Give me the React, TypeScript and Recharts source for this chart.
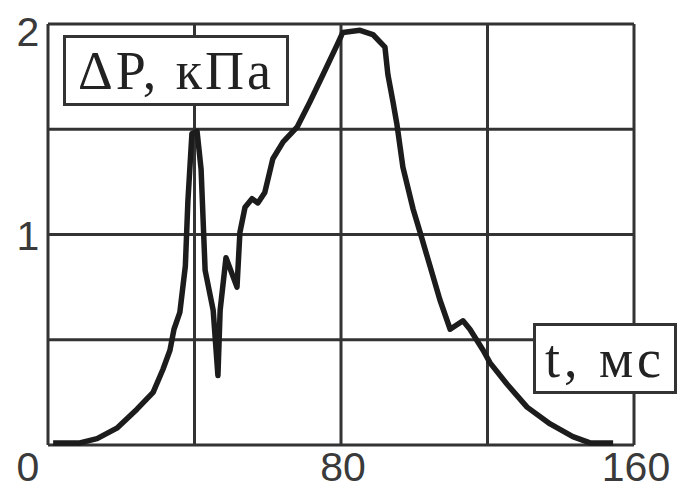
import { CartesianGrid, Line, LineChart, XAxis, YAxis } from "recharts"

// time, ms
const tMs = [
  1.4, 8.7, 13.4, 18.8, 24.3, 28.7, 31.4, 33.3, 34.4, 36.0, 37.5, 38.2, 39.3, 40.7, 41.8, 42.9,
  45.1, 46.4, 47.0, 48.6, 51.6, 52.4, 53.8, 55.7, 57.3, 59.2, 61.4, 64.2, 68.0, 71.5, 75.1, 78.9,
  80.5, 85.2, 88.7, 92.0, 92.8, 94.2, 95.3, 96.9, 99.7, 101.6, 104.3, 107.0, 109.8, 113.3, 115.2,
  118.8, 120.7, 125.3, 130.8, 137.1, 143.3, 148.0, 154.3,
]

// overpressure, kPa
const pressure = [
  0.01, 0.01, 0.03, 0.08, 0.17, 0.25, 0.36, 0.45, 0.55, 0.63, 0.85, 1.16, 1.48, 1.49, 1.31, 0.83,
  0.64, 0.33, 0.64, 0.89, 0.75, 1.01, 1.13, 1.17, 1.15, 1.2, 1.36, 1.44, 1.51, 1.63, 1.76, 1.9,
  1.96, 1.97, 1.95, 1.89, 1.76, 1.63, 1.52, 1.32, 1.12, 1.01, 0.85, 0.69, 0.55, 0.59, 0.55,
  0.45, 0.39, 0.29, 0.18, 0.1, 0.04, 0.01, 0.01,
]

const xTicks = [0, 40, 80, 120, 160]
const xLabels = ["0", "80", "160"]
const yTicks = [0, 0.5, 1, 1.5, 2]
const yLabels = ["1", "2"]

const data = tMs.map((t, i) => ({ t, p: pressure[i] }))

const tickFont = { fontFamily: "'Liberation Sans', Arial, sans-serif", fontSize: 41, fill: "#3a3a3a" }

const XTick = (props: any) => {
  const label = String(props.payload.value)
  if (!xLabels.includes(label)) return null
  // the zero sits under the y labels, not under the axis corner
  const x = props.payload.value === 0 ? props.x - 20 : props.x + 2
  return (
    <text x={x} y={props.y + 36} textAnchor="middle" {...tickFont}>
      {label}
    </text>
  )
}

const YTick = (props: any) => {
  const label = String(props.payload.value)
  if (!yLabels.includes(label)) return null
  const dy = props.payload.value === 2 ? 22 : 15
  return (
    <text x={props.x - 20} y={props.y + dy} textAnchor="middle" {...tickFont}>
      {label}
    </text>
  )
}

const boxStyle = {
  position: "absolute" as const,
  background: "#fff",
  border: "3px solid #333",
  boxSizing: "border-box" as const,
  fontFamily: "'Liberation Serif', 'Times New Roman', serif",
  color: "#222",
  lineHeight: 1,
  whiteSpace: "nowrap" as const,
  display: "flex",
  alignItems: "center",
  justifyContent: "center",
}

export default function App() {
  return (
    <div style={{ position: "absolute", left: 0, top: 0, width: 680, height: 490, background: "#fff" }}>
      <LineChart width={680} height={490} data={data} margin={{ top: 24, right: 46, left: 0, bottom: 0 }}>
        <CartesianGrid stroke="#333" strokeWidth={3} />
        <XAxis
          dataKey="t"
          type="number"
          domain={[0, 160]}
          ticks={xTicks}
          height={45}
          axisLine={false}
          tickLine={false}
          tickSize={0}
          tickMargin={0}
          interval={0}
          tick={<XTick />}
        />
        <YAxis
          type="number"
          domain={[0, 2]}
          ticks={yTicks}
          width={48}
          axisLine={false}
          tickLine={false}
          tickSize={0}
          tickMargin={0}
          interval={0}
          tick={<YTick />}
        />
        <Line
          type="linear"
          dataKey="p"
          stroke="#1c1c1c"
          strokeWidth={5.5}
          strokeLinejoin="round"
          dot={false}
          isAnimationActive={false}
        />
      </LineChart>
      <div style={{ ...boxStyle, left: 63, top: 35, width: 226, height: 71, fontSize: 54, letterSpacing: 3 }}>
        ΔP, кПа
      </div>
      <div style={{ ...boxStyle, left: 533, top: 323, width: 144, height: 71, fontSize: 54, letterSpacing: 4 }}>
        t, мс
      </div>
    </div>
  )
}
